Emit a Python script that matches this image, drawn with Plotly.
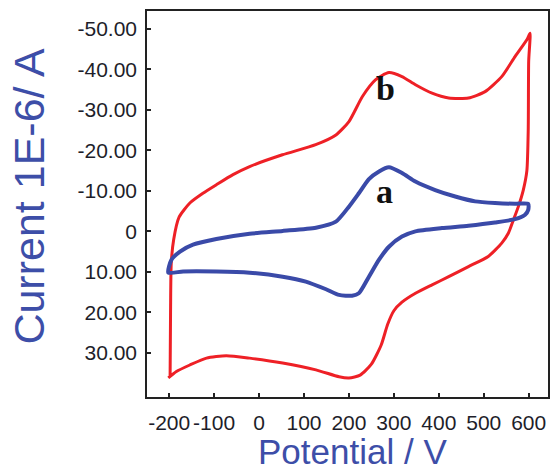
import plotly.graph_objects as go

# ---- data ----
red_x = [-198, -197, -195.5, -190, -178, -154, -125, -95, -58, -21, 52, 126, 171, 200, 230, 259, 289, 318, 348,
         385, 422, 466, 503, 540, 570, 597, 603,
         600, 599, 596, 588, 577, 566, 555, 540, 510, 466, 422, 385, 348, 318, 300, 286, 272, 250, 225,
         200, 178, 126.5, 52.5, -21, -73, -117, -154, -184, -202]
red_y = [36.0, 20, 8, 2.0, -3.5, -7.0, -9.4, -11.5, -14, -16, -18.9, -21.4, -23.8, -27.1, -33.3, -37.4, -39.2, -38.2,
         -36.2, -34.1, -32.9, -32.9, -34.5, -38.2, -43.2, -47.5, -48.9,
         -42, -25, -15, -10.2, -6.1, -2.8, 0.4, 2.9, 6.2, 8.7, 11.2, 13.2, 15.3, 17.5, 19.6, 23.0, 28.0, 32.8, 35.5,
         36.2, 35.9, 34.2, 32.5, 31.3, 30.7, 31.3, 33, 34.6, 36.2]

blue_x = [-202, -169, -95, -21, 52.5, 104, 149, 178, 207, 222, 244.5, 267, 289, 318, 348, 407, 466, 525, 569.5,
          592, 599, 599, 569.5, 525, 481, 436.5, 392, 348, 318, 289, 267, 244.5, 222, 200, 171, 126.5, 52.5,
          -21, -95, -147, -176, -195, -202]
blue_y = [10.2, 9.9, 9.9, 10.2, 11.2, 12.4, 14.3, 15.7, 15.9, 15.3, 11.2, 7.0, 3.8, 1.3, 0.0, -0.8, -1.4, -2.2, -3.0,
          -4.1, -5.3, -6.8, -6.8, -7.0, -7.4, -8.6, -10.2, -12.3, -14.4, -15.8, -14.8, -12.9, -9.4, -6.1, -2.4,
          -0.9, -0.1, 0.6, 1.9, 3.3, 5.0, 7.0, 10.2]

x_tickvals = [-200, -100, 0, 100, 200, 300, 400, 500, 600]
x_ticktext = ["-200", "-100", "0", "100", "200", "300", "400", "500", "600"]
y_tickvals = [-50, -40, -30, -20, -10, 0, 10, 20, 30]
y_ticktext = ["-50.00", "-40.00", "-30.00", "-20.00", "-10.00", "0", "10.00", "20.00", "30.00"]

curve_labels = ["b", "a"]
label_x = [282, 280]
label_y = [-35.2, -9.8]

x_title = "Potential / V"
y_title = "Current 1E-6/ A"

RED = "#EE2026"
BLUE = "#3A4AA8"
TITLE_BLUE = "#3D4EA8"
TICK = "#1e1e2a"

fig = go.Figure()
fig.add_trace(go.Scatter(x=red_x, y=red_y, mode="lines",
                         line=dict(color=RED, width=3, shape="spline", smoothing=0.6),
                         showlegend=False, hoverinfo="skip"))
fig.add_trace(go.Scatter(x=blue_x, y=blue_y, mode="lines",
                         line=dict(color=BLUE, width=4, shape="spline", smoothing=0.6),
                         showlegend=False, hoverinfo="skip"))

for t, lx, ly in zip(curve_labels, label_x, label_y):
    fig.add_annotation(x=lx, y=ly, xref="x", yref="y", text="<b>%s</b>" % t, showarrow=False,
                       font=dict(family="Liberation Serif", size=34, color="#111111"),
                       xanchor="center", yanchor="middle")

fig.add_annotation(x=0.5136, y=-0.142, xref="paper", yref="paper", text=x_title, showarrow=False,
                   font=dict(family="Liberation Sans", size=35, color=TITLE_BLUE),
                   xanchor="center", yanchor="middle")
fig.add_annotation(x=-0.2953, y=0.5207, xref="paper", yref="paper", text=y_title, showarrow=False,
                   textangle=-90,
                   font=dict(family="Liberation Sans", size=43, color=TITLE_BLUE),
                   xanchor="center", yanchor="middle")

axis_common = dict(showline=True, mirror=True, linecolor="#222222", linewidth=1.5,
                   ticks="inside", ticklen=4, tickcolor="#222222", tickwidth=1.5,
                   showgrid=False, zeroline=False, tickangle=0)

fig.update_xaxes(range=[-249.4, 643], tickvals=x_tickvals, ticktext=x_ticktext,
                 tickfont=dict(family="Liberation Sans", size=21, color=TICK),
                 ticklabelstandoff=6, **axis_common)
fig.update_yaxes(range=[40.9, -54.4], tickvals=y_tickvals, ticktext=y_ticktext,
                 tickfont=dict(family="Liberation Sans", size=21, color=TICK),
                 ticklabelstandoff=4, **axis_common)

fig.update_layout(width=555, height=470, margin=dict(l=147, r=5, t=11, b=73),
                  paper_bgcolor="white", plot_bgcolor="white", showlegend=False)

fig.write_html("out.html")
